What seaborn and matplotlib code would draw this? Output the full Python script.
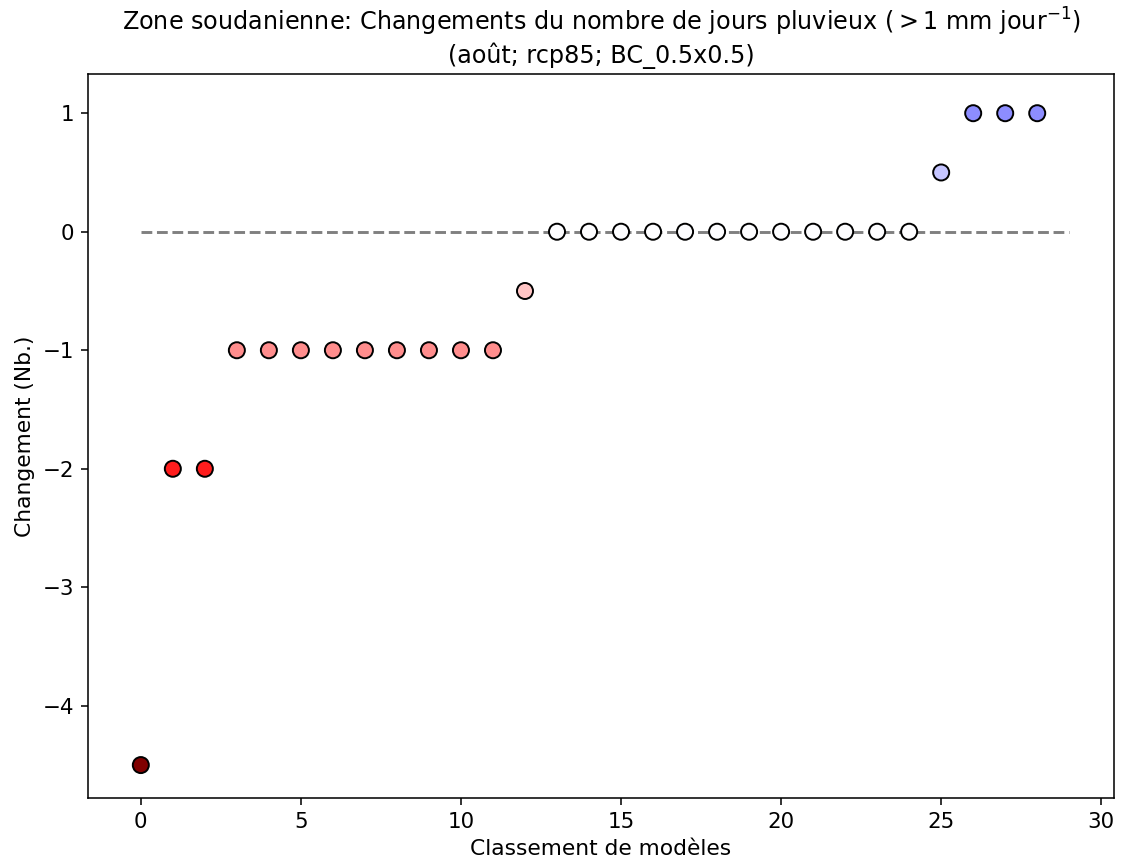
import matplotlib
matplotlib.use("Agg")
import matplotlib.pyplot as plt
import seaborn as sns
import pandas as pd

rank = list(range(29))
change = [-4.5, -2, -2, -1, -1, -1, -1, -1, -1, -1, -1, -1, -0.5,
          0, 0, 0, 0, 0, 0, 0, 0, 0, 0, 0, 0, 0.5, 1, 1, 1]

df = pd.DataFrame({"rank": rank, "change": change})

fig = plt.figure(figsize=(1121/140, 863/140), dpi=140)
ax = fig.add_subplot(111)
fig.subplots_adjust(left=0.0785, right=0.9938, top=0.914, bottom=0.0753)

ax.hlines(0, 0, 29, colors="grey", linestyles="--", linewidth=1.5, zorder=1)
sns.scatterplot(data=df, x="rank", y="change", hue="change", palette="seismic_r",
                hue_norm=(-4.5, 4.5), s=68, edgecolor="black", linewidth=1.0,
                legend=False, ax=ax, zorder=3)

ax.set_xlim(-1.65, 30.4)
ax.set_ylim(-4.778, 1.329)
ax.set_xticks([0, 5, 10, 15, 20, 25, 30])
ax.tick_params(labelsize=11)
ax.set_xlabel("Classement de modèles", fontsize=11.2)
ax.set_ylabel("Changement (Nb.)", fontsize=11.2)
ax.set_title("Zone soudanienne: Changements du nombre de jours pluvieux ($>$1 mm jour$^{-1}$)\n(août; rcp85; BC_0.5x0.5)",
             fontsize=12.3)

fig.savefig("out.png", dpi=140)
